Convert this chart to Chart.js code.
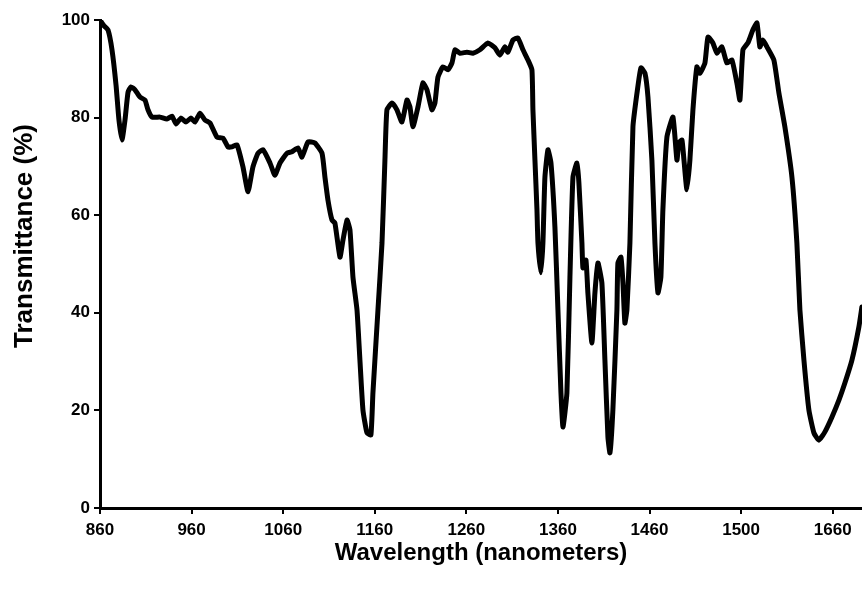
<!DOCTYPE html>
<html>
<head>
<meta charset="utf-8">
<script src="https://cdn.jsdelivr.net/npm/chart.js@4/dist/chart.umd.min.js"></script>
<style>
  html, body { margin: 0; padding: 0; background: #fff; }
  #wrap { width: 862px; height: 595px; position: relative; }
</style>
</head>
<body>
<div id="wrap"><canvas id="c" width="862" height="595"></canvas></div>
<script>
// Wavelength (nm)
const wavelength = [
  860, 864.4, 868.7, 873.1, 877.5, 880.7, 884.0, 887.3, 890.6, 893.8,
  898.2, 903.7, 909.1, 912.4, 916.8, 925.5, 933.1, 938.6, 943.0, 948.4,
  953.9, 959.3, 963.7, 969.2, 974.6, 980.1, 987.7, 994.3, 999.7, 1004.1,
  1009.6, 1016.1, 1021.6, 1027.0, 1032.5, 1038.0, 1045.6, 1051.0, 1056.5, 1064.1,
  1069.6, 1076.2, 1080.5, 1087.1, 1094.7, 1102.4, 1105.6, 1108.9, 1113.3, 1116.5,
  1122.0, 1125.3, 1129.7, 1132.9, 1136.2, 1140.6, 1143.8, 1147.1, 1151.5, 1155.8,
  1158.0, 1163.5, 1167.9, 1171.1, 1173.3, 1178.8, 1184.2, 1189.7, 1195.2, 1198.4,
  1201.7, 1207.2, 1212.6, 1217.0, 1222.4, 1225.7, 1229.0, 1234.5, 1239.9, 1244.3,
  1247.6, 1253.0, 1260.7, 1267.2, 1274.8, 1283.6, 1291.2, 1296.7, 1302.1, 1305.4,
  1310.9, 1316.3, 1321.8, 1327.3, 1331.6, 1332.7, 1334.9, 1337.1, 1338.2, 1341.4,
  1343.6, 1345.8, 1349.1, 1352.4, 1356.7, 1360.0, 1363.3, 1365.5, 1369.8, 1373.1,
  1376.4, 1380.7, 1382.9, 1386.2, 1387.3, 1390.6, 1392.7, 1397.1, 1400.4, 1403.7,
  1408.0, 1411.3, 1414.6, 1416.8, 1420.0, 1424.4, 1425.5, 1428.8, 1431.0, 1433.1,
  1435.3, 1438.6, 1441.9, 1446.3, 1450.6, 1455.0, 1458.3, 1462.6, 1465.9, 1469.2,
  1472.4, 1474.6, 1479.0, 1485.6, 1489.9, 1492.1, 1495.4, 1497.6, 1500.8, 1504.1,
  1507.4, 1511.7, 1515.0, 1520.5, 1523.8, 1529.2, 1533.6, 1539.0, 1544.5, 1550.0,
  1555.4, 1558.7, 1562.0, 1567.4, 1572.9, 1577.3, 1580.5, 1583.8, 1588.2, 1595.8,
  1601.3, 1607.8, 1615.5, 1620.9, 1624.2, 1628.6, 1634.0, 1639.5, 1644.9, 1651.5,
  1659.1, 1666.8, 1673.3, 1681.0, 1688.6, 1691.9
];
// Transmittance (%)
const transmittance = [
  100.0, 98.8, 98.0, 93.9, 86.7, 79.5, 75.4, 79.5, 85.2, 86.3,
  85.7, 84.2, 83.6, 81.6, 80.1, 80.1, 79.7, 80.3, 78.7, 79.9,
  79.1, 79.9, 79.1, 80.9, 79.5, 78.9, 76.0, 75.8, 74.0, 74.0,
  74.4, 69.9, 64.8, 69.9, 72.7, 73.4, 70.7, 68.2, 70.7, 72.7,
  73.0, 73.8, 71.9, 75.0, 74.8, 72.7, 67.8, 63.1, 59.0, 58.4,
  51.4, 54.9, 59.0, 57.0, 47.3, 40.6, 30.3, 20.1, 15.4, 15.0,
  23.6, 40.6, 54.3, 71.3, 81.6, 83.0, 81.6, 79.1, 83.6, 82.2,
  78.1, 82.2, 87.1, 85.7, 81.6, 83.0, 88.3, 90.4, 89.8, 91.2,
  93.9, 93.2, 93.4, 93.2, 93.9, 95.3, 94.3, 92.8, 94.5, 93.4,
  95.9, 96.3, 93.9, 91.8, 89.8, 81.6, 71.3, 61.1, 54.3, 48.2,
  54.3, 67.8, 73.4, 70.7, 57.6, 40.6, 23.6, 16.6, 23.6, 47.3,
  67.8, 70.7, 66.6, 54.3, 49.2, 50.8, 44.1, 33.8, 44.1, 50.2,
  46.1, 30.3, 14.5, 11.3, 20.1, 40.6, 50.2, 51.4, 46.1, 37.9,
  40.6, 54.3, 78.1, 85.0, 90.2, 89.1, 84.2, 71.3, 54.3, 44.1,
  47.3, 61.1, 76.0, 80.1, 71.3, 74.8, 75.4, 71.3, 65.2, 71.3,
  81.6, 90.4, 89.1, 91.2, 96.5, 95.3, 93.2, 94.5, 91.2, 91.8,
  87.1, 83.6, 93.9, 95.3, 98.0, 99.4, 94.5, 95.9, 94.5, 91.8,
  85.0, 78.1, 67.8, 54.3, 40.6, 30.3, 20.1, 15.4, 13.9, 15.6,
  18.6, 22.1, 25.6, 30.3, 37.1, 41.2
];
// Tick values and labels as printed on the picture
const xTickValues = [860, 960, 1060, 1160, 1260, 1360, 1460, 1560, 1660];
const xTickLabels = ['860', '960', '1060', '1160', '1260', '1360', '1460', '1500', '1660'];
const yTickValues = [0, 20, 40, 60, 80, 100];
const xTitle = 'Wavelength (nanometers)';
const yTitle = 'Transmittance (%)';

const points = wavelength.map((x, i) => ({ x: x, y: transmittance[i] }));

// Y-axis title drawn as canvas text, placed like the original (upper-left)
const yTitlePlugin = {
  id: 'yTitle',
  afterDraw(chart) {
    const ctx = chart.ctx;
    ctx.save();
    ctx.translate(25, 236);
    ctx.rotate(-Math.PI / 2);
    ctx.font = 'bold 26px "Liberation Sans", Arial, sans-serif';
    ctx.fillStyle = '#000';
    ctx.textAlign = 'center';
    ctx.textBaseline = 'middle';
    ctx.fillText(yTitle, 0, 0);
    ctx.restore();
  }
};

new Chart(document.getElementById('c'), {
  type: 'line',
  data: {
    datasets: [{
      data: points,
      borderColor: '#000',
      borderWidth: 5,
      pointRadius: 0,
      tension: 0.15,
      fill: false,
      borderJoinStyle: 'round',
      borderCapStyle: 'round'
    }]
  },
  options: {
    responsive: false,
    animation: false,
    layout: { padding: { top: 20, right: 0, bottom: 0, left: 0 } },
    plugins: { legend: { display: false }, tooltip: { enabled: false } },
    scales: {
      x: {
        type: 'linear',
        min: 860,
        max: 1692,
        afterBuildTicks: (s) => { s.ticks = xTickValues.map(v => ({ value: v })); },
        afterFit: (s) => { s.height = 87; },
        border: { display: true, color: '#000', width: 3 },
        grid: { display: true, drawOnChartArea: false, drawTicks: true, tickLength: 6, color: '#000', lineWidth: 2 },
        ticks: {
          color: '#000',
          padding: 6,
          maxRotation: 0,
          autoSkip: false,
          font: { family: 'Liberation Sans', weight: 'bold', size: 17 },
          callback: (v, i) => xTickLabels[i]
        },
        title: {
          display: true,
          text: xTitle,
          color: '#000',
          font: { family: 'Liberation Sans', weight: 'bold', size: 24 },
          padding: { top: 0, bottom: 27 }
        }
      },
      y: {
        type: 'linear',
        min: 0,
        max: 100,
        afterBuildTicks: (s) => { s.ticks = yTickValues.map(v => ({ value: v })); },
        afterFit: (s) => { s.width = 100; },
        border: { display: true, color: '#000', width: 3 },
        grid: { display: true, drawOnChartArea: false, drawTicks: true, tickLength: 6, color: '#000', lineWidth: 2 },
        ticks: {
          color: '#000',
          padding: 4,
          autoSkip: false,
          font: { family: 'Liberation Sans', weight: 'bold', size: 17 },
          callback: (v) => String(v)
        },
        title: { display: false }
      }
    }
  },
  plugins: [yTitlePlugin]
});
</script>
</body>
</html>
